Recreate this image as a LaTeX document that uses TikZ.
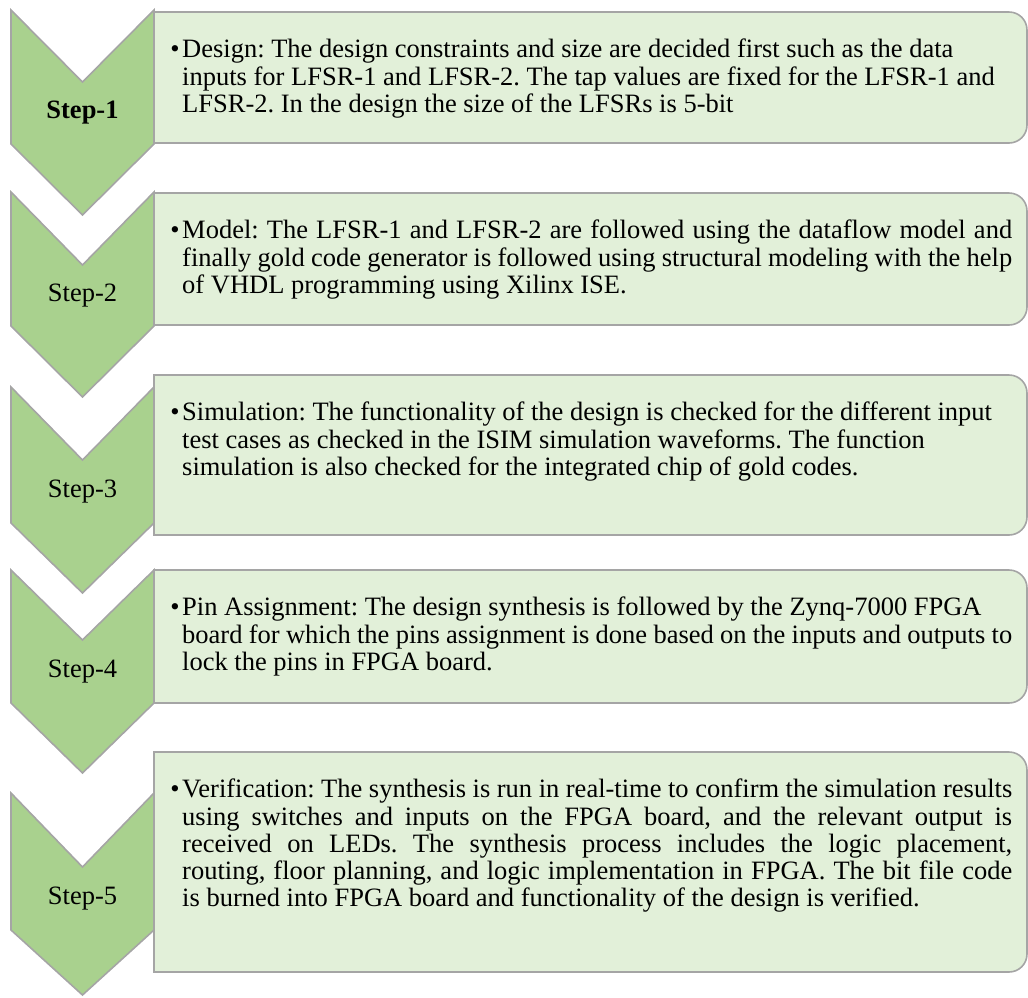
\documentclass[tikz,border=0pt]{standalone}
\usepackage{fontspec}
\setmainfont{Liberation Serif}
\frenchspacing
\definecolor{chevfill}{HTML}{A9D18E}
\definecolor{boxfill}{HTML}{E2F0D9}
\definecolor{edge}{HTML}{A5A5A5}
\tikzset{
  chevron/.style={fill=chevfill,draw=edge,line width=1.6pt,line join=miter},
  panel/.style={fill=boxfill,draw=edge,line width=1.6pt},
  steplabel/.style={font=\fontsize{26.5}{30}\selectfont,inner sep=0pt},
  bodytext/.style={font=\fontsize{26.5}{27.3}\selectfont,text width=830pt,align=left,inner sep=0pt,anchor=north west},
  bulletmark/.style={font=\fontsize{26.5}{27.3}\selectfont,inner sep=0pt,anchor=base},
}
% chevron: top corners, notch, side bottom, tip
\newcommand\drawchev[4]{%
  \draw[chevron] (11,-#1) -- (82.5,-#2) -- (154,-#1) -- (154,-#3) -- (82.5,-#4) -- (11,-#3) -- cycle;}
% text panel with rounded right-hand corners: top, bottom
\newcommand\drawpanel[2]{%
  \draw[panel] (154,-#1) -- (1009,-#1) arc[start angle=90,end angle=0,radius=18]
    -- (1027,{18-#2}) arc[start angle=0,end angle=-90,radius=18] -- (154,-#2) -- cycle;}
% a line spread to the full text width
\newcommand\js[1]{\makebox[830pt][s]{#1}}
% font's own word spaces and a fixed first-line height
\newcommand\st{\spaceskip=0pt\xspaceskip=0pt\relax\rule{0pt}{20pt}}
\begin{document}
\begin{tikzpicture}[x=1pt,y=1pt]
\useasboundingbox (0,0) rectangle (1028,-997);

\drawchev{10}{82}{144}{215}
\drawchev{192}{265}{326}{397}
\drawchev{387}{460}{523}{593}
\drawchev{570}{640}{703}{773}
\drawchev{793}{867}{930}{995}

\drawpanel{12}{143}
\drawpanel{193}{325}
\drawpanel{375}{535}
\drawpanel{570}{703}
\drawpanel{752}{972}

\node[steplabel,font=\fontsize{26.5}{30}\selectfont\bfseries] (s1) at (82.5,-113) {Step-1};
\node[steplabel] (s2) at (82.5,-295.5) {Step-2};
\node[steplabel] (s3) at (82.5,-491.5) {Step-3};
\node[steplabel] (s4) at (82.5,-671.5) {Step-4};
\node[steplabel] (s5) at (82.5,-898.5) {Step-5};

\node[bulletmark] (b1) at (175,-57.5) {•};
\node[bodytext] (t1) at (182,-37.5) {\st Design: The design constraints and size are decided first such as the data\\
inputs for LFSR-1 and LFSR-2. The tap values are fixed for the LFSR-1 and\\
LFSR-2. In the design the size of the LFSRs is 5-bit};

\node[bulletmark] (b2) at (175,-238.5) {•};
\node[bodytext] (t2) at (182,-218.5) {\st\js{Model: The LFSR-1 and LFSR-2 are followed using the dataflow model and}\\
\js{finally gold code generator is followed using structural modeling with the help}\\
of VHDL programming using Xilinx ISE.};

\node[bulletmark] (b3) at (175,-420.5) {•};
\node[bodytext] (t3) at (182,-400.5) {\st Simulation: The functionality of the design is checked for the different input\\
test cases as checked in the ISIM simulation waveforms. The function\\
simulation is also checked for the integrated chip of gold codes.};

\node[bulletmark] (b4) at (175,-615.5) {•};
\node[bodytext] (t4) at (182,-595.5) {\st Pin Assignment: The design synthesis is followed by the Zynq-7000 FPGA\\
\js{board for which the pins assignment is done based on the inputs and outputs to}\\
lock the pins in FPGA board.};

\node[bulletmark] (b5) at (175,-797.5) {•};
\node[bodytext] (t5) at (182,-777.5) {\st\js{Verification: The synthesis is run in real-time to confirm the simulation results}\\
\js{using switches and inputs on the FPGA board, and the relevant output is}\\
\js{received on LEDs. The synthesis process includes the logic placement,}\\
\js{routing, floor planning, and logic implementation in FPGA. The bit file code}\\
is burned into FPGA board and functionality of the design is verified.};
\end{tikzpicture}
\end{document}
